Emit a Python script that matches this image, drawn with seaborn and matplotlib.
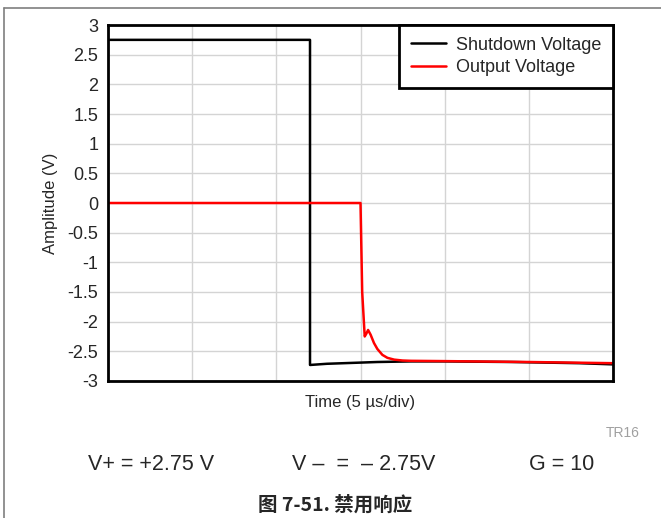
import matplotlib
matplotlib.use('Agg')
import matplotlib.pyplot as plt
import seaborn as sns
import pandas as pd
from matplotlib.lines import Line2D

# Waveform data (time in us, 5 us/div)
shutdown_t = [0, 12, 12, 13, 14, 15, 16, 17, 18, 20, 22, 24, 26, 28, 30]
shutdown_v = [2.75, 2.75, -2.73, -2.71, -2.70, -2.69, -2.68, -2.675, -2.67,
              -2.67, -2.675, -2.68, -2.69, -2.70, -2.72]

output_t = [0, 15.0, 15.1, 15.25, 15.35, 15.45, 15.6, 15.8, 16.0, 16.3, 16.6,
            17.0, 17.5, 18, 20, 25, 30]
output_v = [0, 0, -1.5, -2.25, -2.20, -2.14, -2.22, -2.36, -2.46, -2.56, -2.61,
            -2.64, -2.655, -2.66, -2.665, -2.68, -2.70]

y_ticks = [-3, -2.5, -2, -1.5, -1, -0.5, 0, 0.5, 1, 1.5, 2, 2.5, 3]
y_tick_labels = ["-3", "-2.5", "-2", "-1.5", "-1", "-0.5", "0", "0.5", "1",
                 "1.5", "2", "2.5", "3"]
x_ticks = [0, 5, 10, 15, 20, 25, 30]

sns.set_style("white")
plt.rcParams['font.family'] = ['Liberation Sans', 'Noto Sans CJK SC', 'DejaVu Sans']

df_sd = pd.DataFrame({"t": shutdown_t, "v": shutdown_v})
df_out = pd.DataFrame({"t": output_t, "v": output_v})

fig = plt.figure(figsize=(6.61, 5.18), dpi=100)
ax = fig.add_axes([0.1634, 0.2645, 0.9274 - 0.1634, 0.9517 - 0.2645])

sns.lineplot(data=df_sd, x="t", y="v", sort=False, estimator=None,
             color="black", linewidth=1.8, ax=ax)
sns.lineplot(data=df_out, x="t", y="v", sort=False, estimator=None,
             color="red", linewidth=1.8, ax=ax)

ax.set_xlim(0, 30)
ax.set_ylim(-3, 3)
ax.set_xticks(x_ticks)
ax.set_xticklabels([])
ax.set_yticks(y_ticks)
ax.set_yticklabels(y_tick_labels)
ax.tick_params(length=0, labelsize=13, pad=7)
ax.grid(True, color="#d4d4d4", linewidth=1)
for s in ax.spines.values():
    s.set_color("black")
    s.set_linewidth(2.0)
    s.set_visible(True)

ax.set_xlabel("Time (5 µs/div)", fontsize=12, labelpad=3)
ax.set_ylabel("Amplitude (V)", fontsize=12, labelpad=7)

handles = [Line2D([], [], color="black", linewidth=1.8),
           Line2D([], [], color="red", linewidth=1.8)]
leg = ax.legend(handles, ["Shutdown Voltage", "Output Voltage"], loc="upper right",
                fontsize=13, frameon=True, fancybox=False, borderaxespad=0,
                handlelength=1.95, handletextpad=0.55, labelspacing=0.3,
                borderpad=0.65)
leg.get_frame().set_edgecolor("black")
leg.get_frame().set_linewidth(2.0)
leg.get_frame().set_alpha(1)

# page frame lines
fig.add_artist(Line2D([4 / 661, 1], [1 - 8 / 518, 1 - 8 / 518], color="#7f7f7f",
                      linewidth=1.2, transform=fig.transFigure))
fig.add_artist(Line2D([4 / 661, 4 / 661], [0, 1 - 8 / 518], color="#7f7f7f",
                      linewidth=1.2, transform=fig.transFigure))

fig.text(623 / 661, 1 - 433 / 518, "TR16", fontsize=10, color="#a0a0a0",
         ha="center", va="center")
fig.text(88 / 661, 1 - 464 / 518, "V+ = +2.75 V", fontsize=15.5, ha="left", va="center")
fig.text(292 / 661, 1 - 464 / 518, "V –  =  – 2.75V", fontsize=15.5, ha="left", va="center")
fig.text(529 / 661, 1 - 464 / 518, "G = 10", fontsize=15.5, ha="left", va="center")
fig.text(335 / 661, 1 - 505 / 518, "图 7-51. 禁用响应", fontsize=14, fontweight="bold",
         ha="center", va="center", family=['Noto Sans CJK SC', 'DejaVu Sans'])

fig.savefig("out.png", dpi=100)
